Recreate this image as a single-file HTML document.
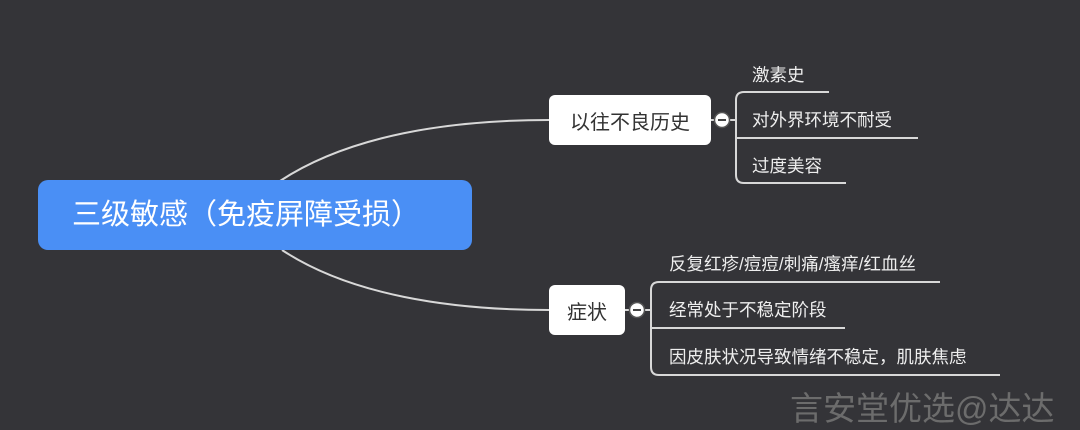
<!DOCTYPE html>
<html><head><meta charset="utf-8"><style>
body{margin:0;width:1080px;height:430px;background:#343438;overflow:hidden;position:relative;font-family:"Liberation Sans","Noto Sans CJK SC",sans-serif}
.t{position:absolute;color:#eee;font-size:17.5px;white-space:nowrap;line-height:20px}
.box{position:absolute;background:#fff;border-radius:6px;color:#333;font-size:20px;display:flex;align-items:center;justify-content:center}
</style></head><body>
<svg width="1080" height="430" style="position:absolute;left:0;top:0">
<g fill="none" stroke="#d8d8d8" stroke-width="2">
<path d="M280 181 C350 135 450 120 549 120"/>
<path d="M282 250 C350 295 450 310 549 310"/>
<path d="M711 120 H736"/>
<path d="M829 92 H744 Q736 92 736 100 V175 Q736 183 744 183 H846"/>
<path d="M736 138 H918"/>
<path d="M625 310 H651"/>
<path d="M940 282 H659 Q651 282 651 290 V367 Q651 375 659 375 H1000"/>
<path d="M651 328 H845"/>
</g>
<circle cx="722" cy="120" r="7.5" fill="#fff" stroke="#555" stroke-width="1.5"/>
<rect x="718" y="119" width="8" height="2" fill="#444"/>
<circle cx="637" cy="310" r="7.5" fill="#fff" stroke="#555" stroke-width="1.5"/>
<rect x="633" y="309" width="8" height="2" fill="#444"/>
</svg>
<div style="position:absolute;left:38px;top:180px;width:434px;height:70px;background:#4a8ff5;border-radius:10px;color:#fff;font-size:29px;line-height:70px;padding-left:34px;box-sizing:border-box;white-space:nowrap">三级敏感（免疫屏障受损）</div>
<div class="box" style="left:549px;top:95px;width:162px;height:50px">以往不良历史</div>
<div class="box" style="left:549px;top:285px;width:76px;height:50px">症状</div>
<div class="t" style="left:752px;top:65px">激素史</div>
<div class="t" style="left:752px;top:110px">对外界环境不耐受</div>
<div class="t" style="left:752px;top:156px">过度美容</div>
<div class="t" style="left:669px;top:254px">反复红疹/痘痘/刺痛/瘙痒/红血丝</div>
<div class="t" style="left:669px;top:300px">经常处于不稳定阶段</div>
<div class="t" style="left:669px;top:347px">因皮肤状况导致情绪不稳定，肌肤焦虑</div>
<div style="position:absolute;left:790px;top:391px;color:#6c6c6c;font-size:33px;line-height:36px;white-space:nowrap">言安堂优选@达达</div>
</body></html>
